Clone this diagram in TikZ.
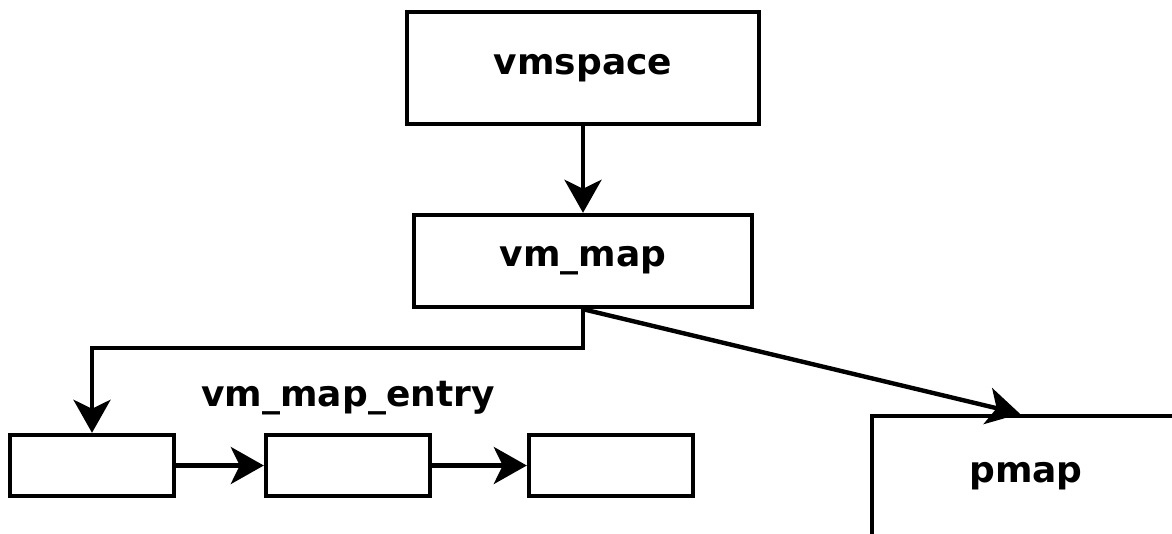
\documentclass[tikz,border=0pt]{standalone}
\usepackage{fontspec}
\setmainfont{DejaVu Sans}
\usetikzlibrary{arrows.meta}
\begin{document}
\begin{tikzpicture}[x=1pt,y=-1pt,
  box/.style={draw,line width=4.4pt,inner sep=0pt,font=\fontsize{36}{42}\selectfont\bfseries},
  lbl/.style={inner sep=0pt,font=\fontsize{36}{42}\selectfont\bfseries},
  conn/.style={line width=4.4pt,-{Stealth[length=33pt,width=37pt,inset=9pt]}}]
\useasboundingbox (0,0) rectangle (1172,533);
\clip (0,0) rectangle (1172,533);
\node[box,minimum width=352pt,minimum height=112pt] (vmspace) at (583,68) {vmspace};
\node[box,minimum width=338pt,minimum height=92pt] (vmmap) at (583,261) {vm\_map};
\node[box,minimum width=164pt,minimum height=61pt] (e1) at (92,465.5) {};
\node[box,minimum width=164pt,minimum height=61pt] (e2) at (348,465.5) {};
\node[box,minimum width=164pt,minimum height=61pt] (e3) at (611,465.5) {};
\node[lbl] (entrylbl) at (348,398) {vm\_map\_entry};
\node[box,minimum width=308pt,minimum height=160pt] (pmap) at (1026,496) {};
\node[lbl] (pmaplbl) at (1026,476) {pmap};
\coordinate (pmaptop) at ([xshift=-6pt]pmap.north);
\draw[conn] (vmspace.south) -- (vmmap.north);
\draw[conn] (vmmap.south) -- ++(0,39) -| (e1.north);
\draw[conn] (e1.east) -- (e2.west);
\draw[conn] (e2.east) -- (e3.west);
\draw[conn] (vmmap.south) -- (pmaptop);
\end{tikzpicture}
\end{document}
